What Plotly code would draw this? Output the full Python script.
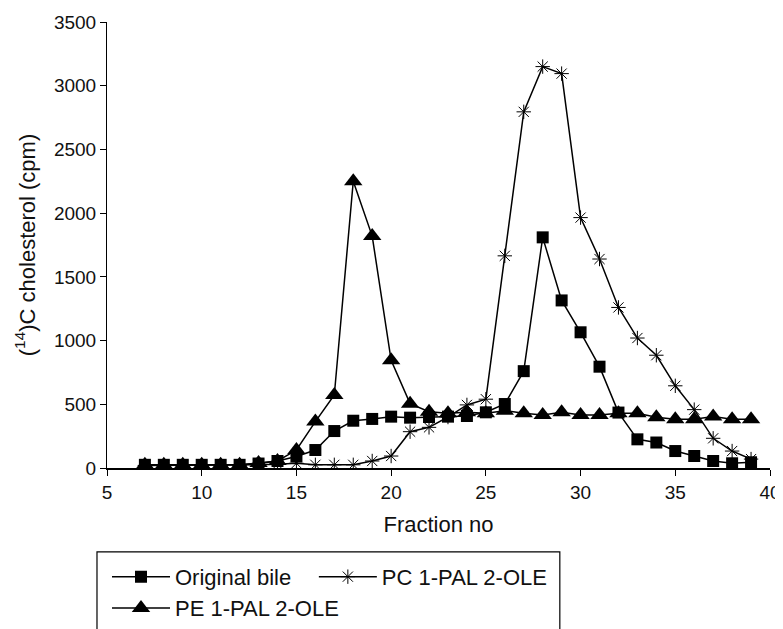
import plotly.graph_objects as go

fractions = list(range(7, 40))

original_bile = [25, 25, 25, 25, 25, 25, 35, 55, 90, 141, 290, 371, 385, 403, 395, 400, 403, 408, 437, 502,
                 760, 1810, 1315, 1065, 795, 435, 225, 200, 133, 94, 55, 37, 45]
pc_1pal_2ole = [20, 20, 20, 20, 20, 20, 25, 30, 37, 25, 25, 25, 55, 94, 285, 319, 400, 495, 540, 1665,
                2795, 3150, 3095, 1965, 1640, 1260, 1020, 885, 645, 458, 233, 133, 70]
pe_1pal_2ole = [25, 25, 25, 25, 25, 25, 40, 55, 141, 364, 573, 2250, 1820, 845, 505, 442, 430, 437, 430, 450,
                429, 416, 437, 416, 416, 430, 429, 398, 382, 382, 405, 382, 382]

x_ticks = [5, 10, 15, 20, 25, 30, 35, 40]
y_ticks = [0, 500, 1000, 1500, 2000, 2500, 3000, 3500]

FONT = "Liberation Sans, Arial, sans-serif"
TXT = "#111"

fig = go.Figure()
fig.add_trace(go.Scatter(
    x=fractions, y=original_bile, name="Original bile", mode="lines+markers",
    line=dict(color="black", width=1.5),
    marker=dict(symbol="square", size=12, color="black"),
    legend="legend",
))
fig.add_trace(go.Scatter(
    x=fractions, y=pc_1pal_2ole, name="PC 1-PAL 2-OLE", mode="lines+markers",
    line=dict(color="black", width=1.5),
    marker=dict(symbol="asterisk-open", size=12, color="black", line=dict(color="black", width=1)),
    legend="legend3",
))
fig.add_trace(go.Scatter(
    x=fractions, y=pe_1pal_2ole, name="PE 1-PAL 2-OLE", mode="lines+markers",
    line=dict(color="black", width=1.5),
    marker=dict(symbol="triangle-up", size=16, color="black"),
    legend="legend2",
))

legend_common = dict(
    orientation="h", xanchor="left", yanchor="top",
    font=dict(size=22, family=FONT, color=TXT),
    bgcolor="rgba(0,0,0,0)", borderwidth=0, itemwidth=58,
)

# the page body has an 8px default margin, so the figure is sized 8px smaller
fig.update_layout(
    width=775, height=621,
    margin=dict(l=99, r=13, t=14, b=161, autoexpand=False),
    paper_bgcolor="white", plot_bgcolor="white",
    font=dict(family=FONT, color=TXT, size=19),
    showlegend=True,
    legend=dict(x=0.0, y=-0.197, **legend_common),
    legend3=dict(x=0.312, y=-0.197, **legend_common),
    legend2=dict(x=0.0, y=-0.267, **legend_common),
    shapes=[dict(
        type="rect", xref="paper", yref="paper",
        x0=-0.0151, x1=0.683, y0=-0.40, y1=-0.188,
        line=dict(color="black", width=1.2), fillcolor="rgba(0,0,0,0)",
    )],
)

fig.update_xaxes(
    range=[5, 40], tickvals=x_ticks, ticktext=[str(v) for v in x_ticks],
    showgrid=False, zeroline=False, showline=True, linecolor="black", linewidth=1.8,
    ticks="outside", ticklen=6, tickcolor="black", tickwidth=1,
    tickfont=dict(size=19, family=FONT, color=TXT),
    title=dict(text="Fraction no", font=dict(size=22, family=FONT, color=TXT), standoff=15),
)
fig.update_yaxes(
    range=[0, 3500], tickvals=y_ticks, ticktext=[str(v) for v in y_ticks],
    showgrid=False, zeroline=False, showline=True, linecolor="black", linewidth=1,
    ticks="outside", ticklen=6, tickcolor="black", tickwidth=1,
    tickfont=dict(size=19, family=FONT, color=TXT),
    title=dict(text="(<sup>14</sup>)C cholesterol (cpm)", font=dict(size=22, family=FONT, color=TXT), standoff=12),
)

fig.write_html("out.html")
